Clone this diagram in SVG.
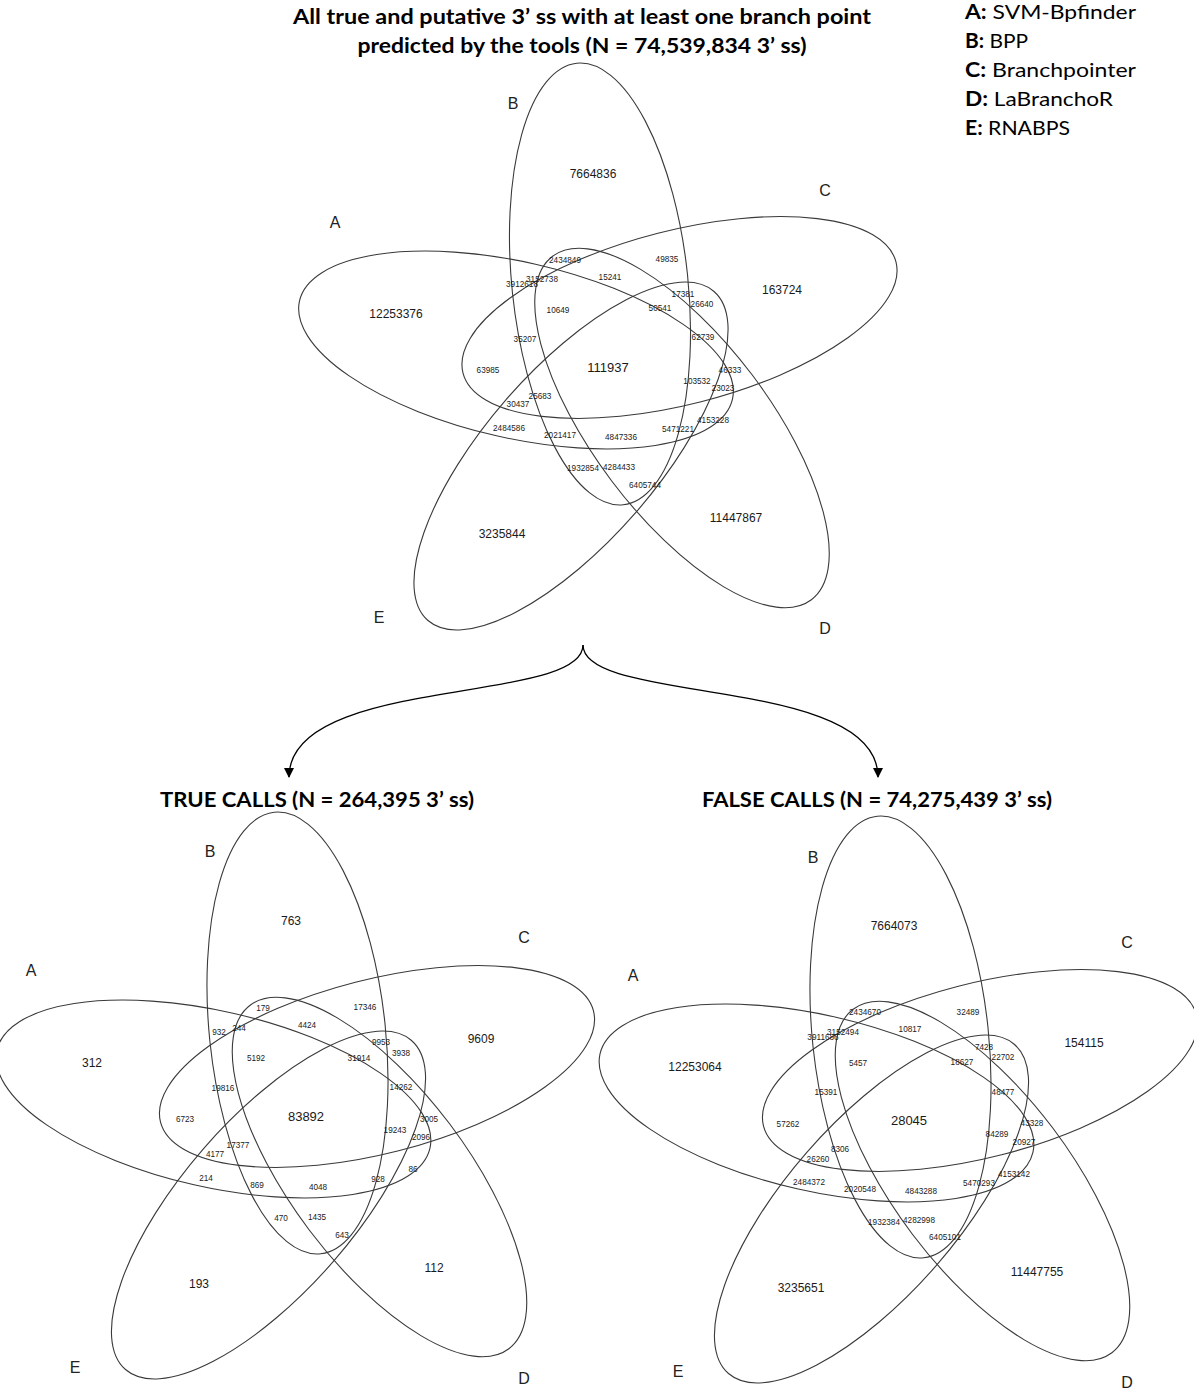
<svg xmlns="http://www.w3.org/2000/svg" xmlns:xlink="http://www.w3.org/1999/xlink" width="1194" height="1391" viewBox="0 0 1194 1391">
<style>
  .ell { fill: none; stroke: #3a3a3a; stroke-width: 1.1; }
  .n { font-family: "Liberation Sans", Arial, sans-serif; font-size: 8.2px; fill: #1a1a1a; text-anchor: middle; }
  .big { font-family: "Liberation Sans", Arial, sans-serif; font-size: 12px; fill: #1a1a1a; text-anchor: middle; }
  .all { font-family: "Liberation Sans", Arial, sans-serif; font-size: 13px; fill: #1a1a1a; text-anchor: middle; }
  .set { font-family: "Liberation Sans", Arial, sans-serif; font-size: 16px; fill: #222; text-anchor: middle; }
  .title { font-family: Lato, "Liberation Sans", sans-serif; font-size: 21px; font-weight: bold; fill: #000; }
  .leg { font-family: Lato, "Liberation Sans", sans-serif; font-size: 20px; fill: #000; }
  .conn { fill: none; stroke: #000; stroke-width: 1.3; }
</style>
<defs>
  <marker id="arrow" markerWidth="10" markerHeight="10" refX="9" refY="5" orient="auto" markerUnits="userSpaceOnUse">
    <path d="M0,0 L10,5 L0,10 z" fill="#000"/>
  </marker>
  <g id="sets">
    <ellipse class="ell" cx="516" cy="350" rx="222" ry="88" transform="rotate(12.8 516 350)"/>
    <ellipse class="ell" cx="600" cy="284" rx="222" ry="88" transform="rotate(84 600 284)"/>
    <ellipse class="ell" cx="679.5" cy="317.5" rx="223.5" ry="87" transform="rotate(-14.4 679.5 317.5)"/>
    <ellipse class="ell" cx="682" cy="428" rx="215" ry="88" transform="rotate(53 682 428)"/>
    <ellipse class="ell" cx="571" cy="456" rx="218" ry="86" transform="rotate(-49 571 456)"/>
  </g>
</defs>

<g id="title">
  <text class="title" x="582" y="24" text-anchor="middle" textLength="578" lengthAdjust="spacingAndGlyphs">All true and putative 3’ ss with at least one branch point</text>
  <text class="title" x="582" y="53" text-anchor="middle" textLength="449" lengthAdjust="spacingAndGlyphs">predicted by the tools (N = 74,539,834 3’ ss)</text>
</g>

<g id="legend">
  <text class="leg" x="965" y="19" textLength="171" lengthAdjust="spacingAndGlyphs"><tspan font-weight="bold">A:</tspan> SVM-Bpfinder</text>
  <text class="leg" x="965" y="48" textLength="63" lengthAdjust="spacingAndGlyphs"><tspan font-weight="bold">B:</tspan> BPP</text>
  <text class="leg" x="965" y="77" textLength="171" lengthAdjust="spacingAndGlyphs"><tspan font-weight="bold">C:</tspan> Branchpointer</text>
  <text class="leg" x="965" y="106" textLength="148" lengthAdjust="spacingAndGlyphs"><tspan font-weight="bold">D:</tspan> LaBranchoR</text>
  <text class="leg" x="965" y="135" textLength="105" lengthAdjust="spacingAndGlyphs"><tspan font-weight="bold">E:</tspan> RNABPS</text>
</g>

<g id="venn-all">
  <use href="#sets" xlink:href="#sets"/>
  <text class="set" x="335" y="228">A</text>
  <text class="set" x="513" y="109">B</text>
  <text class="set" x="825" y="196">C</text>
  <text class="set" x="825" y="634">D</text>
  <text class="set" x="379" y="623">E</text>
  <text class="big" x="593" y="178">7664836</text>
  <text class="big" x="782" y="294">163724</text>
  <text class="big" x="396" y="318">12253376</text>
  <text class="big" x="736" y="522">11447867</text>
  <text class="big" x="502" y="538">3235844</text>
  <text class="all" x="608" y="372">111937</text>
  <text class="n" x="565" y="263">2434849</text>
  <text class="n" x="610" y="280">15241</text>
  <text class="n" x="667" y="262">49835</text>
  <text class="n" x="542" y="282">3152738</text>
  <text class="n" x="522" y="287">3912618</text>
  <text class="n" x="558" y="313">10649</text>
  <text class="n" x="683" y="297">17381</text>
  <text class="n" x="702" y="307">26640</text>
  <text class="n" x="660" y="311">50541</text>
  <text class="n" x="525" y="342">35207</text>
  <text class="n" x="488" y="373">63985</text>
  <text class="n" x="540" y="399">25683</text>
  <text class="n" x="518" y="407">30437</text>
  <text class="n" x="509" y="431">2484586</text>
  <text class="n" x="560" y="438">2021417</text>
  <text class="n" x="621" y="440">4847336</text>
  <text class="n" x="583" y="471">1932854</text>
  <text class="n" x="619" y="470">4284433</text>
  <text class="n" x="703" y="340">62739</text>
  <text class="n" x="730" y="373">46333</text>
  <text class="n" x="697" y="384">103532</text>
  <text class="n" x="723" y="391">23023</text>
  <text class="n" x="713" y="423">4153228</text>
  <text class="n" x="678" y="432">5471221</text>
  <text class="n" x="645" y="488">6405744</text>
</g>

<g id="connectors">
  <path class="conn" d="M583,645 C583,705 289,675 289,777" marker-end="url(#arrow)"/>
  <path class="conn" d="M583,645 C583,705 878,675 878,777" marker-end="url(#arrow)"/>
</g>

<g id="venn-true">
  <text class="title" x="317" y="807" text-anchor="middle" textLength="314" lengthAdjust="spacingAndGlyphs">TRUE CALLS (N = 264,395 3’ ss)</text>
  <use href="#sets" xlink:href="#sets" transform="translate(-302.5,749)"/>
  <text class="set" x="31" y="976">A</text>
  <text class="set" x="210" y="857">B</text>
  <text class="set" x="524" y="943">C</text>
  <text class="set" x="524" y="1384">D</text>
  <text class="set" x="75" y="1373">E</text>
  <text class="big" x="291" y="925">763</text>
  <text class="big" x="481" y="1043">9609</text>
  <text class="big" x="92" y="1067">312</text>
  <text class="big" x="434" y="1272">112</text>
  <text class="big" x="199" y="1288">193</text>
  <text class="all" x="306" y="1121">83892</text>
  <text class="n" x="263" y="1011">179</text>
  <text class="n" x="239" y="1031">244</text>
  <text class="n" x="219" y="1035">932</text>
  <text class="n" x="307" y="1028">4424</text>
  <text class="n" x="256" y="1061">5192</text>
  <text class="n" x="223" y="1091">19816</text>
  <text class="n" x="365" y="1010">17346</text>
  <text class="n" x="381" y="1045">9953</text>
  <text class="n" x="401" y="1056">3938</text>
  <text class="n" x="359" y="1061">31914</text>
  <text class="n" x="401" y="1090">14262</text>
  <text class="n" x="185" y="1122">6723</text>
  <text class="n" x="238" y="1148">17377</text>
  <text class="n" x="215" y="1157">4177</text>
  <text class="n" x="206" y="1181">214</text>
  <text class="n" x="257" y="1188">869</text>
  <text class="n" x="281" y="1221">470</text>
  <text class="n" x="429" y="1122">3005</text>
  <text class="n" x="395" y="1133">19243</text>
  <text class="n" x="421" y="1140">2096</text>
  <text class="n" x="413" y="1172">86</text>
  <text class="n" x="378" y="1182">928</text>
  <text class="n" x="318" y="1190">4048</text>
  <text class="n" x="317" y="1220">1435</text>
  <text class="n" x="342" y="1238">643</text>
</g>

<g id="venn-false">
  <text class="title" x="877" y="807" text-anchor="middle" textLength="350" lengthAdjust="spacingAndGlyphs">FALSE CALLS (N = 74,275,439 3’ ss)</text>
  <use href="#sets" xlink:href="#sets" transform="translate(300.5,753)"/>
  <text class="set" x="633" y="981">A</text>
  <text class="set" x="813" y="863">B</text>
  <text class="set" x="1127" y="948">C</text>
  <text class="set" x="1127" y="1388">D</text>
  <text class="set" x="678" y="1377">E</text>
  <text class="big" x="894" y="930">7664073</text>
  <text class="big" x="1084" y="1047">154115</text>
  <text class="big" x="695" y="1071">12253064</text>
  <text class="big" x="1037" y="1276">11447755</text>
  <text class="big" x="801" y="1292">3235651</text>
  <text class="all" x="909" y="1125">28045</text>
  <text class="n" x="865" y="1015">2434670</text>
  <text class="n" x="843" y="1035">3152494</text>
  <text class="n" x="823" y="1040">3911686</text>
  <text class="n" x="910" y="1032">10817</text>
  <text class="n" x="858" y="1066">5457</text>
  <text class="n" x="826" y="1095">15391</text>
  <text class="n" x="968" y="1015">32489</text>
  <text class="n" x="984" y="1050">7428</text>
  <text class="n" x="1003" y="1060">22702</text>
  <text class="n" x="962" y="1065">18627</text>
  <text class="n" x="1003" y="1095">48477</text>
  <text class="n" x="788" y="1127">57262</text>
  <text class="n" x="840" y="1152">8306</text>
  <text class="n" x="818" y="1162">26260</text>
  <text class="n" x="809" y="1185">2484372</text>
  <text class="n" x="860" y="1192">2020548</text>
  <text class="n" x="884" y="1225">1932384</text>
  <text class="n" x="1032" y="1126">43328</text>
  <text class="n" x="997" y="1137">84289</text>
  <text class="n" x="1024" y="1145">20927</text>
  <text class="n" x="1014" y="1177">4153142</text>
  <text class="n" x="979" y="1186">5470293</text>
  <text class="n" x="921" y="1194">4843288</text>
  <text class="n" x="919" y="1223">4282998</text>
  <text class="n" x="945" y="1240">6405101</text>
</g>
</svg>
